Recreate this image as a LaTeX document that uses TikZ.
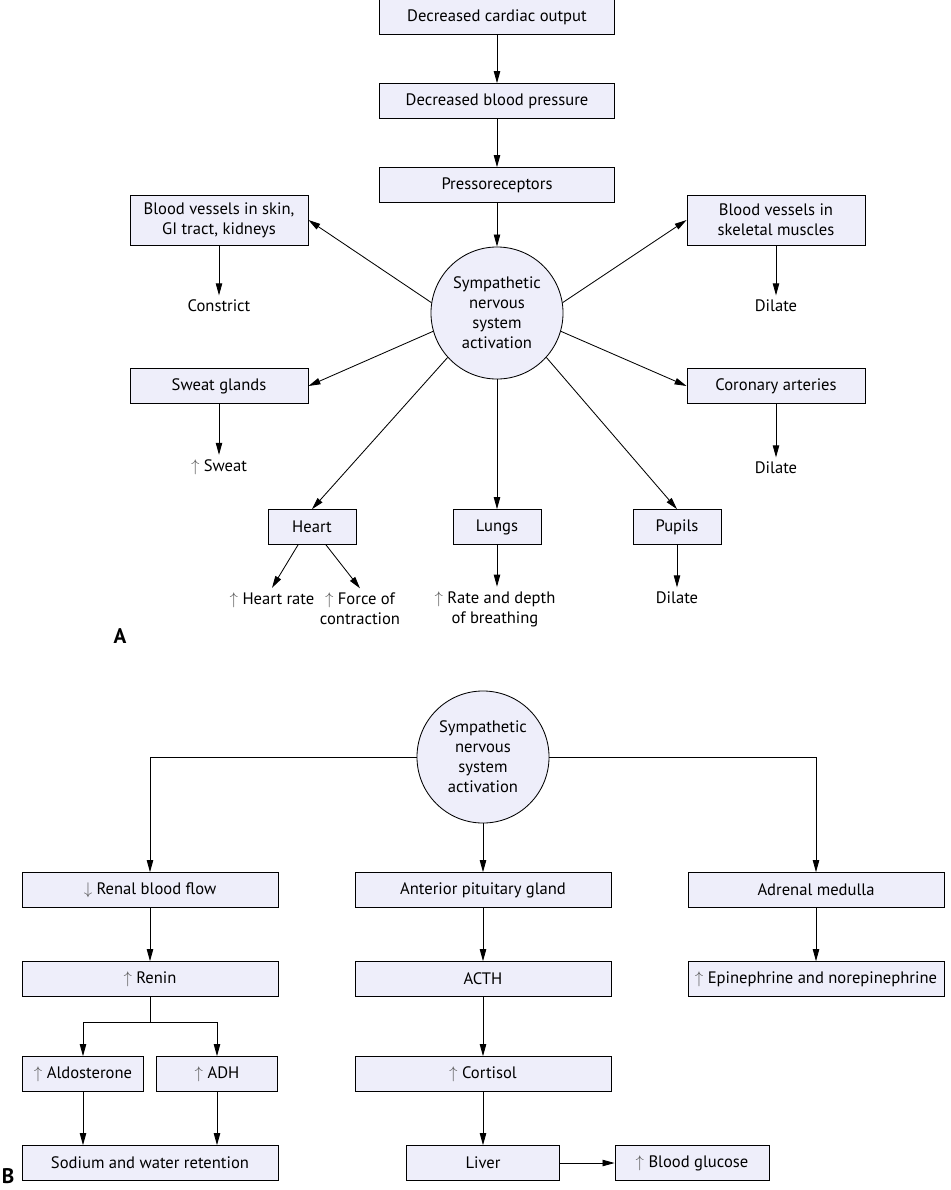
\documentclass[tikz,border=0pt]{standalone}
\usepackage{fontspec}
\setmainfont{PT Sans}
\usetikzlibrary{arrows.meta, positioning, calc}
\definecolor{boxfill}{RGB}{238,238,250}
\newcommand{\upar}{{\color{black!65}$\uparrow$}\ }
\newcommand{\dnar}{{\color{black!65}$\downarrow$}\ }

\begin{document}
\begin{tikzpicture}[
    x=0.025cm, y=-0.025cm,
    >={Triangle[length=3mm, width=1.6mm]}, line width=0.6pt,
    font=\fontsize{11.8}{14.3}\selectfont,
    box/.style={draw, fill=boxfill, minimum height=0.87cm,
                inner sep=2pt, align=center},
    hub/.style={draw, circle, fill=boxfill, minimum size=3.3cm,
                inner sep=0pt, align=center},
    effect/.style={align=center, inner sep=3pt},
    panel/.style={font=\bfseries\fontsize{15}{17}\selectfont}
  ]
  \useasboundingbox (0,0) rectangle (950,1190);

  % A
  \node[box, minimum width=5.875cm] (cardiac) at (497,17) {Decreased cardiac output};
  \node[box, minimum width=5.875cm] (bp) at (497,101) {Decreased blood pressure};
  \node[box, minimum width=5.875cm] (press) at (497,185) {Pressoreceptors};
  \node[hub] (sns) at (497,313) {Sympathetic\\nervous\\system\\activation};

  \node[box, minimum width=4.45cm, minimum height=1.25cm]
    (skin) at (219,220) {Blood vessels in skin,\\GI tract, kidneys};
  \node[effect] (constrict) at (219,306) {Constrict};
  \node[box, minimum width=4.45cm, minimum height=1.25cm]
    (skel) at (776,220) {Blood vessels in\\skeletal muscles};
  \node[effect] (dilskel) at (776,306) {Dilate};
  \node[box, minimum width=4.45cm] (sweat) at (219,386) {Sweat glands};
  \node[effect] (sweatup) at (219,467) {\upar Sweat};
  \node[box, minimum width=4.45cm] (coron) at (776,386) {Coronary arteries};
  \node[effect] (dilcoron) at (776,468) {Dilate};

  \node[box, minimum width=2.2cm] (heart) at (312,527) {Heart};
  \node[box, minimum width=2.2cm] (lungs) at (497,527) {Lungs};
  \node[box, minimum width=2.2cm] (pupils) at (677,527) {Pupils};
  \node[effect] (rate) at (272,600) {\upar Heart rate};
  \node[effect] (force) at (360,609) {\upar Force of\\contraction};
  \node[effect] (breath) at (495,609) {\upar Rate and depth\\of breathing};
  \node[effect] (dilpupil) at (677,598) {Dilate};
  \node[panel] (labA) at (120,636) {A};

  \draw[->] (cardiac) -- (bp);
  \draw[->] (bp) -- (press);
  \draw[->] (press) -- (sns);
  \draw[->] (sns.171) -- (skin.east);
  \draw[->] (sns.196) -- (sweat.east);
  \draw[->] (sns.222) -- (heart.north);
  \draw[->] (sns) -- (lungs);
  \draw[->] (sns.318) -- (pupils.north);
  \draw[->] (sns.9) -- (skel.west);
  \draw[->] (sns.344) -- (coron.west);

  \draw[->] (skin) -- (constrict);
  \draw[->] (skel) -- (dilskel);
  \draw[->] (sweat) -- (sweatup);
  \draw[->] (coron) -- (dilcoron);
  \draw[->] (heart.232) -- (rate.north);
  \draw[->] (heart.308) -- (force.north);
  \draw[->] (lungs) -- (lungs |- breath.north);
  \draw[->] (pupils) -- (dilpupil);

  % B
  \node[hub] (sns2) at (483,757) {Sympathetic\\nervous\\system\\activation};
  \node[box, minimum width=6.4cm] (renal) at (150,890) {\dnar Renal blood flow};
  \node[box, minimum width=6.4cm] (pit) at (483,890) {Anterior pituitary gland};
  \node[box, minimum width=6.4cm] (adrenal) at (816,890) {Adrenal medulla};
  \node[box, minimum width=6.4cm] (renin) at (150,979) {\upar Renin};
  \node[box, minimum width=6.4cm] (acth) at (483,979) {ACTH};
  \node[box, minimum width=6.4cm] (epi) at (816,979) {\upar Epinephrine and norepinephrine};
  \node[box, minimum width=3.025cm] (aldo) at (83,1074) {\upar Aldosterone};
  \node[box, minimum width=3.025cm] (adh) at (217,1074) {\upar ADH};
  \node[box, minimum width=6.4cm] (cort) at (483,1074) {\upar Cortisol};
  \node[box, minimum width=6.4cm] (sodium) at (150,1163) {Sodium and water retention};
  \node[box, minimum width=3.825cm] (liver) at (483,1163) {Liver};
  \node[box, minimum width=3.85cm] (gluc) at (692,1163) {\upar Blood glucose};
  \node[panel] (labB) at (8,1176) {B};
  \coordinate (fork) at (150,1022);

  \draw[->] (sns2.west) -| (renal.north);
  \draw[->] (sns2.east) -| (adrenal.north);
  \draw[->] (sns2) -- (pit);
  \draw[->] (renal) -- (renin);
  \draw[->] (pit) -- (acth);
  \draw[->] (adrenal) -- (epi);
  \draw (renin) -- (fork);
  \draw[->] (fork) -| (aldo.north);
  \draw[->] (fork) -| (adh.north);
  \draw[->] (aldo) -- (aldo |- sodium.north);
  \draw[->] (adh) -- (adh |- sodium.north);
  \draw[->] (acth) -- (cort);
  \draw[->] (cort) -- (liver);
  \draw[->] (liver) -- (gluc);
\end{tikzpicture}
\end{document}
